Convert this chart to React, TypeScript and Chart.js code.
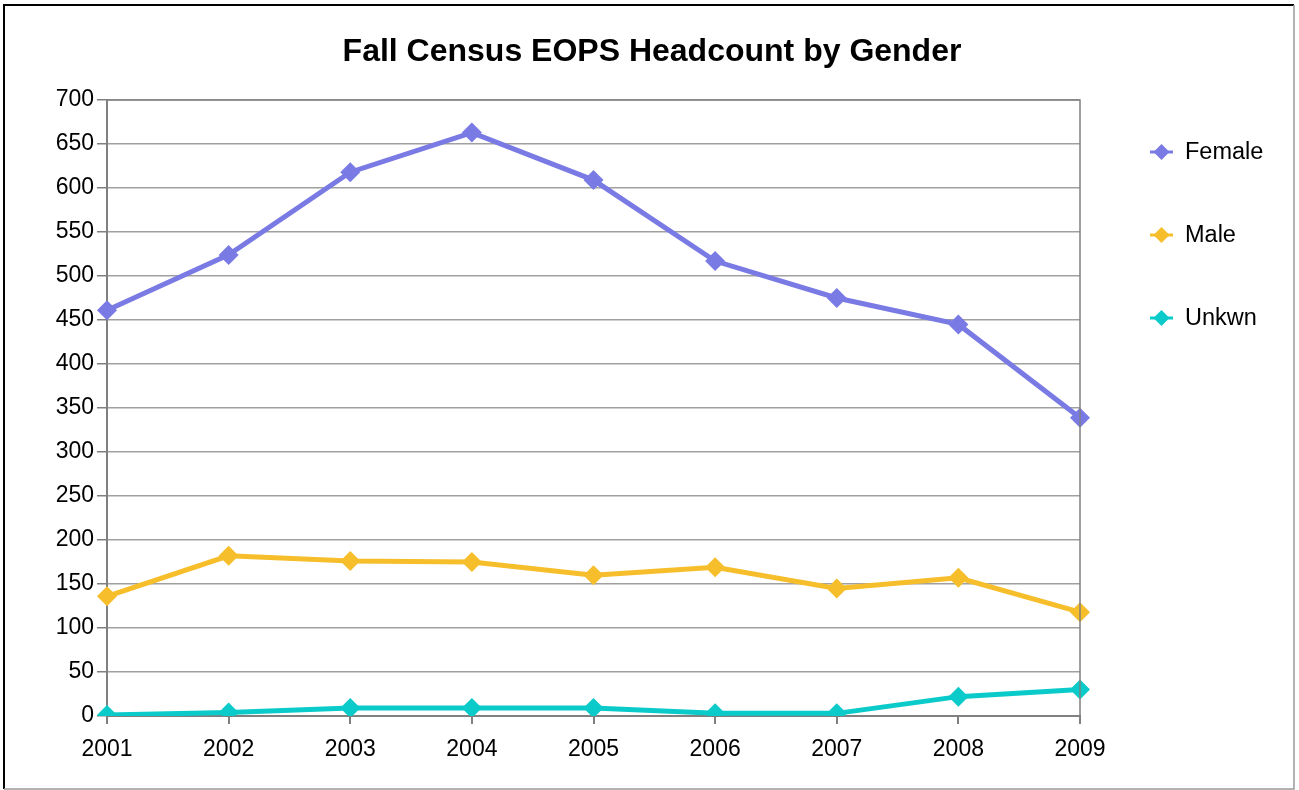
import React, { useEffect, useRef } from "react";
import { Chart, registerables } from "chart.js";

Chart.register(...registerables);

const years = ["2001", "2002", "2003", "2004", "2005", "2006", "2007", "2008", "2009"];
const female = [461, 524, 618, 663, 609, 517, 475, 445, 339];
const male = [136, 182, 176, 175, 160, 169, 145, 157, 118];
const unkwn = [1, 4, 9, 9, 9, 3, 3, 22, 30];
const seriesNames = ["Female", "Male", "Unkwn"];
const seriesColors = ["#7a7ae5", "#f6be2b", "#0acaca"];
const titleText = "Fall Census EOPS Headcount by Gender";

const FONT = "'Liberation Sans', Arial, sans-serif";

const decorPlugin = {
  id: "decor",
  beforeDraw(chart: any) {
    const ctx = chart.ctx;
    ctx.save();
    ctx.fillStyle = "#ffffff";
    ctx.fillRect(0, 0, chart.width, chart.height);
    ctx.restore();
  },
  afterDraw(chart: any) {
    const ctx = chart.ctx;
    const a = chart.chartArea;
    ctx.save();
    // outer frame
    ctx.lineWidth = 2;
    ctx.strokeStyle = "#000000";
    ctx.beginPath();
    ctx.moveTo(4, 789);
    ctx.lineTo(4, 5);
    ctx.lineTo(1294, 5);
    ctx.stroke();
    ctx.strokeStyle = "#999999";
    ctx.lineWidth = 1.5;
    ctx.beginPath();
    ctx.moveTo(1294, 5);
    ctx.lineTo(1294, 789);
    ctx.lineTo(4, 789);
    ctx.stroke();
    // plot frame right/top
    ctx.strokeStyle = "#808080";
    ctx.lineWidth = 1.5;
    ctx.beginPath();
    ctx.moveTo(a.left, a.top);
    ctx.lineTo(a.right, a.top);
    ctx.lineTo(a.right, a.bottom);
    ctx.stroke();
    // title
    ctx.fillStyle = "#000000";
    ctx.font = `bold 32px ${FONT}`;
    ctx.textAlign = "center";
    ctx.textBaseline = "alphabetic";
    ctx.fillText(titleText, 652, 61);
    // legend
    const ys = [152, 235, 318];
    chart.data.datasets.forEach((ds: any, i: number) => {
      const y = ys[i];
      ctx.strokeStyle = ds.borderColor;
      ctx.lineWidth = 3;
      ctx.beginPath();
      ctx.moveTo(1150, y);
      ctx.lineTo(1173, y);
      ctx.stroke();
      ctx.fillStyle = ds.borderColor;
      ctx.beginPath();
      ctx.moveTo(1161.5, y - 8);
      ctx.lineTo(1169.5, y);
      ctx.lineTo(1161.5, y + 8);
      ctx.lineTo(1153.5, y);
      ctx.closePath();
      ctx.fill();
      ctx.fillStyle = "#000000";
      ctx.font = `23.5px ${FONT}`;
      ctx.textAlign = "left";
      ctx.textBaseline = "middle";
      ctx.fillText(ds.label, 1185, y + 1);
    });
    ctx.restore();
  },
};

export default function App() {
  const ref = useRef<HTMLCanvasElement | null>(null);
  useEffect(() => {
    document.body.style.margin = "0";
    const canvas = ref.current;
    if (!canvas) return;
    const datasets = [female, male, unkwn].map((d, i) => ({
      label: seriesNames[i],
      data: d,
      borderColor: seriesColors[i],
      backgroundColor: seriesColors[i],
      borderWidth: 5,
      pointStyle: "rectRot" as const,
      pointRadius: 10,
      pointHoverRadius: 10,
      pointBorderWidth: 0,
      tension: 0,
    }));
    const chart = new Chart(canvas, {
      type: "line",
      data: { labels: years, datasets },
      options: {
        responsive: false,
        animation: false,
        layout: { padding: { top: 100, right: 219, bottom: 0, left: 0 } },
        plugins: {
          legend: { display: false },
          title: { display: false },
          tooltip: { enabled: false },
        },
        scales: {
          x: {
            offset: false,
            afterFit: (s: any) => {
              s.height = 74;
            },
            grid: {
              drawOnChartArea: false,
              drawTicks: true,
              tickLength: 8,
              color: "#808080",
              lineWidth: 2,
            },
            border: { color: "#808080", width: 2 },
            ticks: {
              color: "#000000",
              font: { family: FONT, size: 23 },
              padding: 12,
              maxRotation: 0,
            },
          },
          y: {
            min: 0,
            max: 700,
            afterFit: (s: any) => {
              s.width = 107;
            },
            grid: {
              color: "#a0a0a0",
              lineWidth: 1.5,
              tickLength: 10,
              tickColor: "#808080",
            },
            border: { color: "#808080", width: 2 },
            ticks: {
              stepSize: 50,
              color: "#000000",
              font: { family: FONT, size: 23 },
              padding: 3,
            },
          },
        },
      },
      plugins: [decorPlugin],
    });
    return () => chart.destroy();
  }, []);
  return (
    <div style={{ width: 1299, height: 790 }}>
      <canvas ref={ref} width={1299} height={790} style={{ display: "block" }} />
    </div>
  );
}
